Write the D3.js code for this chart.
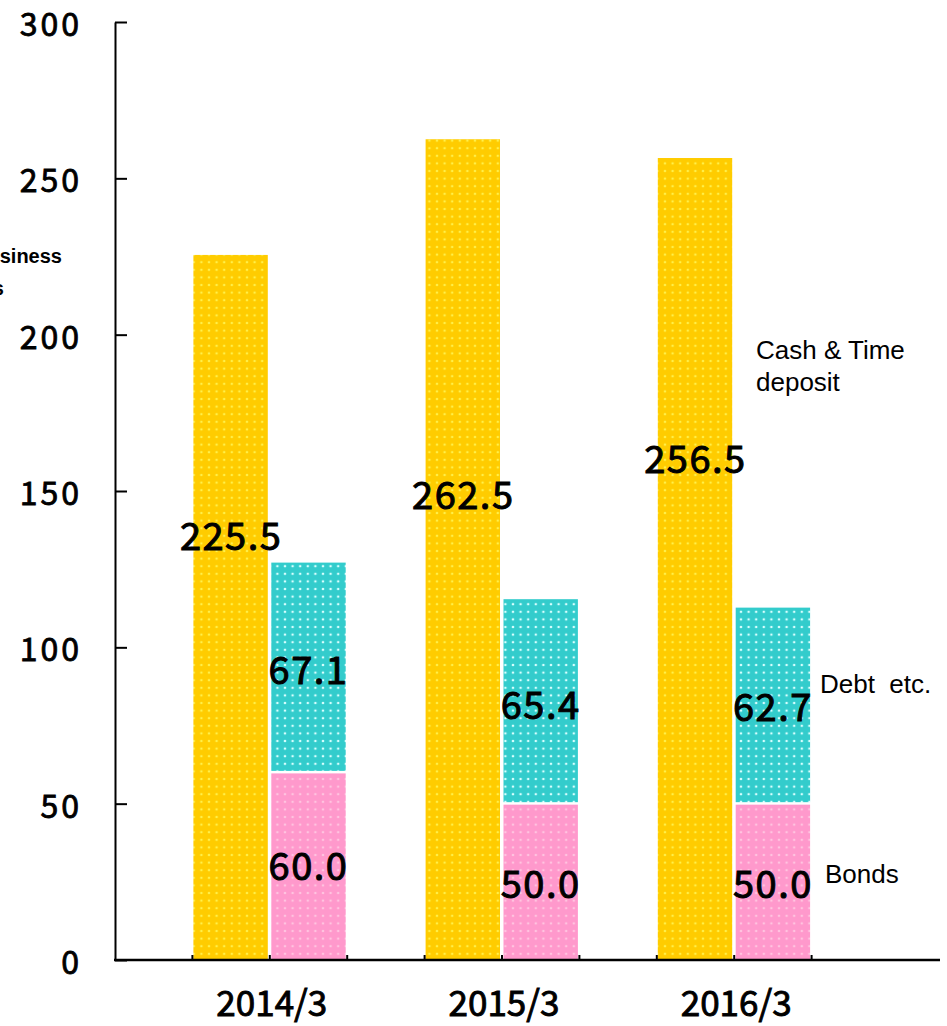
<!DOCTYPE html>
<html>
<head>
<meta charset="utf-8">
<script src="https://cdn.jsdelivr.net/npm/d3@7"></script>
<style>
  body { margin: 0; background: #fff; }
  svg { display: block; }
</style>
</head>
<body>
<svg id="drawing_region"></svg>
<script>
// data
const years = ['2014/3', '2015/3', '2016/3'];
const cash  = [225.5, 262.5, 256.5];
const debt  = [67.1, 65.4, 62.7];
const bonds = [60.0, 50.0, 50.0];
const yTicks = [0, 50, 100, 150, 200, 250, 300];

// where the value labels sit (in axis units, vertical centre)
const cashLabelAt  = [135.5, 148.5, 160];
const debtLabelAt  = [92.7, 81.5, 80.7];
const bondsLabelAt = [30, 24.3, 24.3];

const W = 947, H = 1026;
const svg = d3.select('#drawing_region')
    .attr('width', W)
    .attr('height', H);

// dotted fills
const defs = svg.append('defs');
function dots(id, base, dot) {
    const p = defs.append('pattern')
        .attr('id', id)
        .attr('patternUnits', 'userSpaceOnUse')
        .attr('width', 7.6).attr('height', 7.6);
    p.append('rect').attr('width', 7.6).attr('height', 7.6).attr('fill', base);
    p.append('circle').attr('cx', 3.8).attr('cy', 3.8).attr('r', 1.3).attr('fill', dot);
}
dots('pCash', '#ffcc00', '#fff04a');
dots('pDebt', '#33cccc', '#d8ffff');
dots('pBonds', '#ff99cc', '#ffc4e0');

const y = d3.scaleLinear().domain([0, 300]).range([960, 22]);

const slot = 77.4;
const outer = d3.scaleBand().domain(years).range([115, 115 + 9 * slot]);
const inner = d3.scaleBand().domain(['gap', 'cash', 'stack']).range([0, outer.bandwidth()]);

const rows = years.map((yr, i) => ({
    yr: yr, cash: cash[i], debt: debt[i], bonds: bonds[i],
    cl: cashLabelAt[i], dl: debtLabelAt[i], bl: bondsLabelAt[i]
}));

// bars
const g = svg.append('g');
g.selectAll('.cash').data(rows).enter().append('rect')
    .attr('x', d => outer(d.yr) + inner('cash') + 1)
    .attr('width', inner.bandwidth() - 3)
    .attr('y', d => y(d.cash))
    .attr('height', d => y(0) - y(d.cash))
    .attr('fill', 'url(#pCash)');

g.selectAll('.bonds').data(rows).enter().append('rect')
    .attr('x', d => outer(d.yr) + inner('stack') + 1.5)
    .attr('width', inner.bandwidth() - 3)
    .attr('y', d => y(d.bonds) + 1)
    .attr('height', d => y(0) - y(d.bonds) - 1)
    .attr('fill', 'url(#pBonds)');

g.selectAll('.debt').data(rows).enter().append('rect')
    .attr('x', d => outer(d.yr) + inner('stack') + 1.5)
    .attr('width', inner.bandwidth() - 3)
    .attr('y', d => y(d.bonds + d.debt))
    .attr('height', d => y(d.bonds) - y(d.bonds + d.debt) - 1.5)
    .attr('fill', 'url(#pDebt)');

const numFont = '"Noto Sans CJK JP", sans-serif';

// axes
const yAxis = svg.append('g')
    .attr('transform', 'translate(115,0)')
    .call(d3.axisLeft(y).tickValues(yTicks).tickSizeInner(-12).tickSizeOuter(0).tickPadding(33));
yAxis.select('.domain').attr('stroke', '#000').attr('stroke-width', 2);
yAxis.selectAll('.tick line').attr('stroke', '#000').attr('stroke-width', 2);
yAxis.selectAll('.tick text')
    .attr('font-family', numFont)
    .attr('font-size', 32)
    .attr('letter-spacing', 3)
    .attr('stroke', '#000').attr('stroke-width', 0.8)
    .attr('dy', '0.42em')
    .attr('fill', '#000');

svg.append('line')
    .attr('x1', 114).attr('x2', 940)
    .attr('y1', y(0)).attr('y2', y(0))
    .attr('stroke', '#000').attr('stroke-width', 2.5);

const xTickPos = [];
years.forEach(yr => {
    xTickPos.push(outer(yr) + inner('cash'));
    xTickPos.push(outer(yr) + inner('stack'));
    xTickPos.push(outer(yr) + inner('stack') + inner.bandwidth());
});
svg.selectAll('.xtick').data(xTickPos).enter().append('line')
    .attr('x1', d => d).attr('x2', d => d)
    .attr('y1', y(0) - 5).attr('y2', y(0) + 1)
    .attr('stroke', '#000').attr('stroke-width', 2);

svg.selectAll('.xlab').data(years).enter().append('text')
    .attr('x', d => outer(d) + inner('stack') + 2)
    .attr('y', 1016)
    .attr('text-anchor', 'middle')
    .attr('font-family', numFont)
    .attr('font-size', 35)
    .attr('stroke', '#000').attr('stroke-width', 0.9)
    .text(d => d);

// value labels
function valueLabels(cls, xf, yf, tf) {
    svg.selectAll('.' + cls).data(rows).enter().append('text')
        .attr('x', xf)
        .attr('y', d => y(yf(d)))
        .attr('dy', '0.36em')
        .attr('text-anchor', 'middle')
        .attr('font-family', numFont)
        .attr('font-size', 38)
        .attr('letter-spacing', 1.5)
        .attr('stroke', '#000').attr('stroke-width', 1)
        .attr('fill', '#000')
        .text(tf);
}
valueLabels('vc', d => outer(d.yr) + inner('cash') + inner.bandwidth() / 2, d => d.cl, d => d.cash.toFixed(1));
valueLabels('vd', d => outer(d.yr) + inner('stack') + inner.bandwidth() / 2, d => d.dl, d => d.debt.toFixed(1));
valueLabels('vb', d => outer(d.yr) + inner('stack') + inner.bandwidth() / 2, d => d.bl, d => d.bonds.toFixed(1));

// series names
const side = svg.append('g')
    .attr('font-family', '"Liberation Sans", Arial, sans-serif')
    .attr('font-size', 26)
    .attr('fill', '#000');
side.append('text').attr('x', 756).attr('y', 359).text('Cash & Time');
side.append('text').attr('x', 756).attr('y', 391).text('deposit');
side.append('text').attr('x', 820).attr('y', 693).style('white-space', 'pre').text('Debt  etc.');
side.append('text').attr('x', 825).attr('y', 883).text('Bonds');

// clipped unit note on the far left
const note = svg.append('g')
    .attr('font-family', '"Liberation Sans", Arial, sans-serif')
    .attr('font-size', 20)
    .attr('font-weight', 700)
    .attr('text-anchor', 'end')
    .attr('fill', '#000');
note.append('text').attr('x', 62).attr('y', 263).text('Business');
note.append('text').attr('x', 4).attr('y', 295).text('assets');
</script>
</body>
</html>
